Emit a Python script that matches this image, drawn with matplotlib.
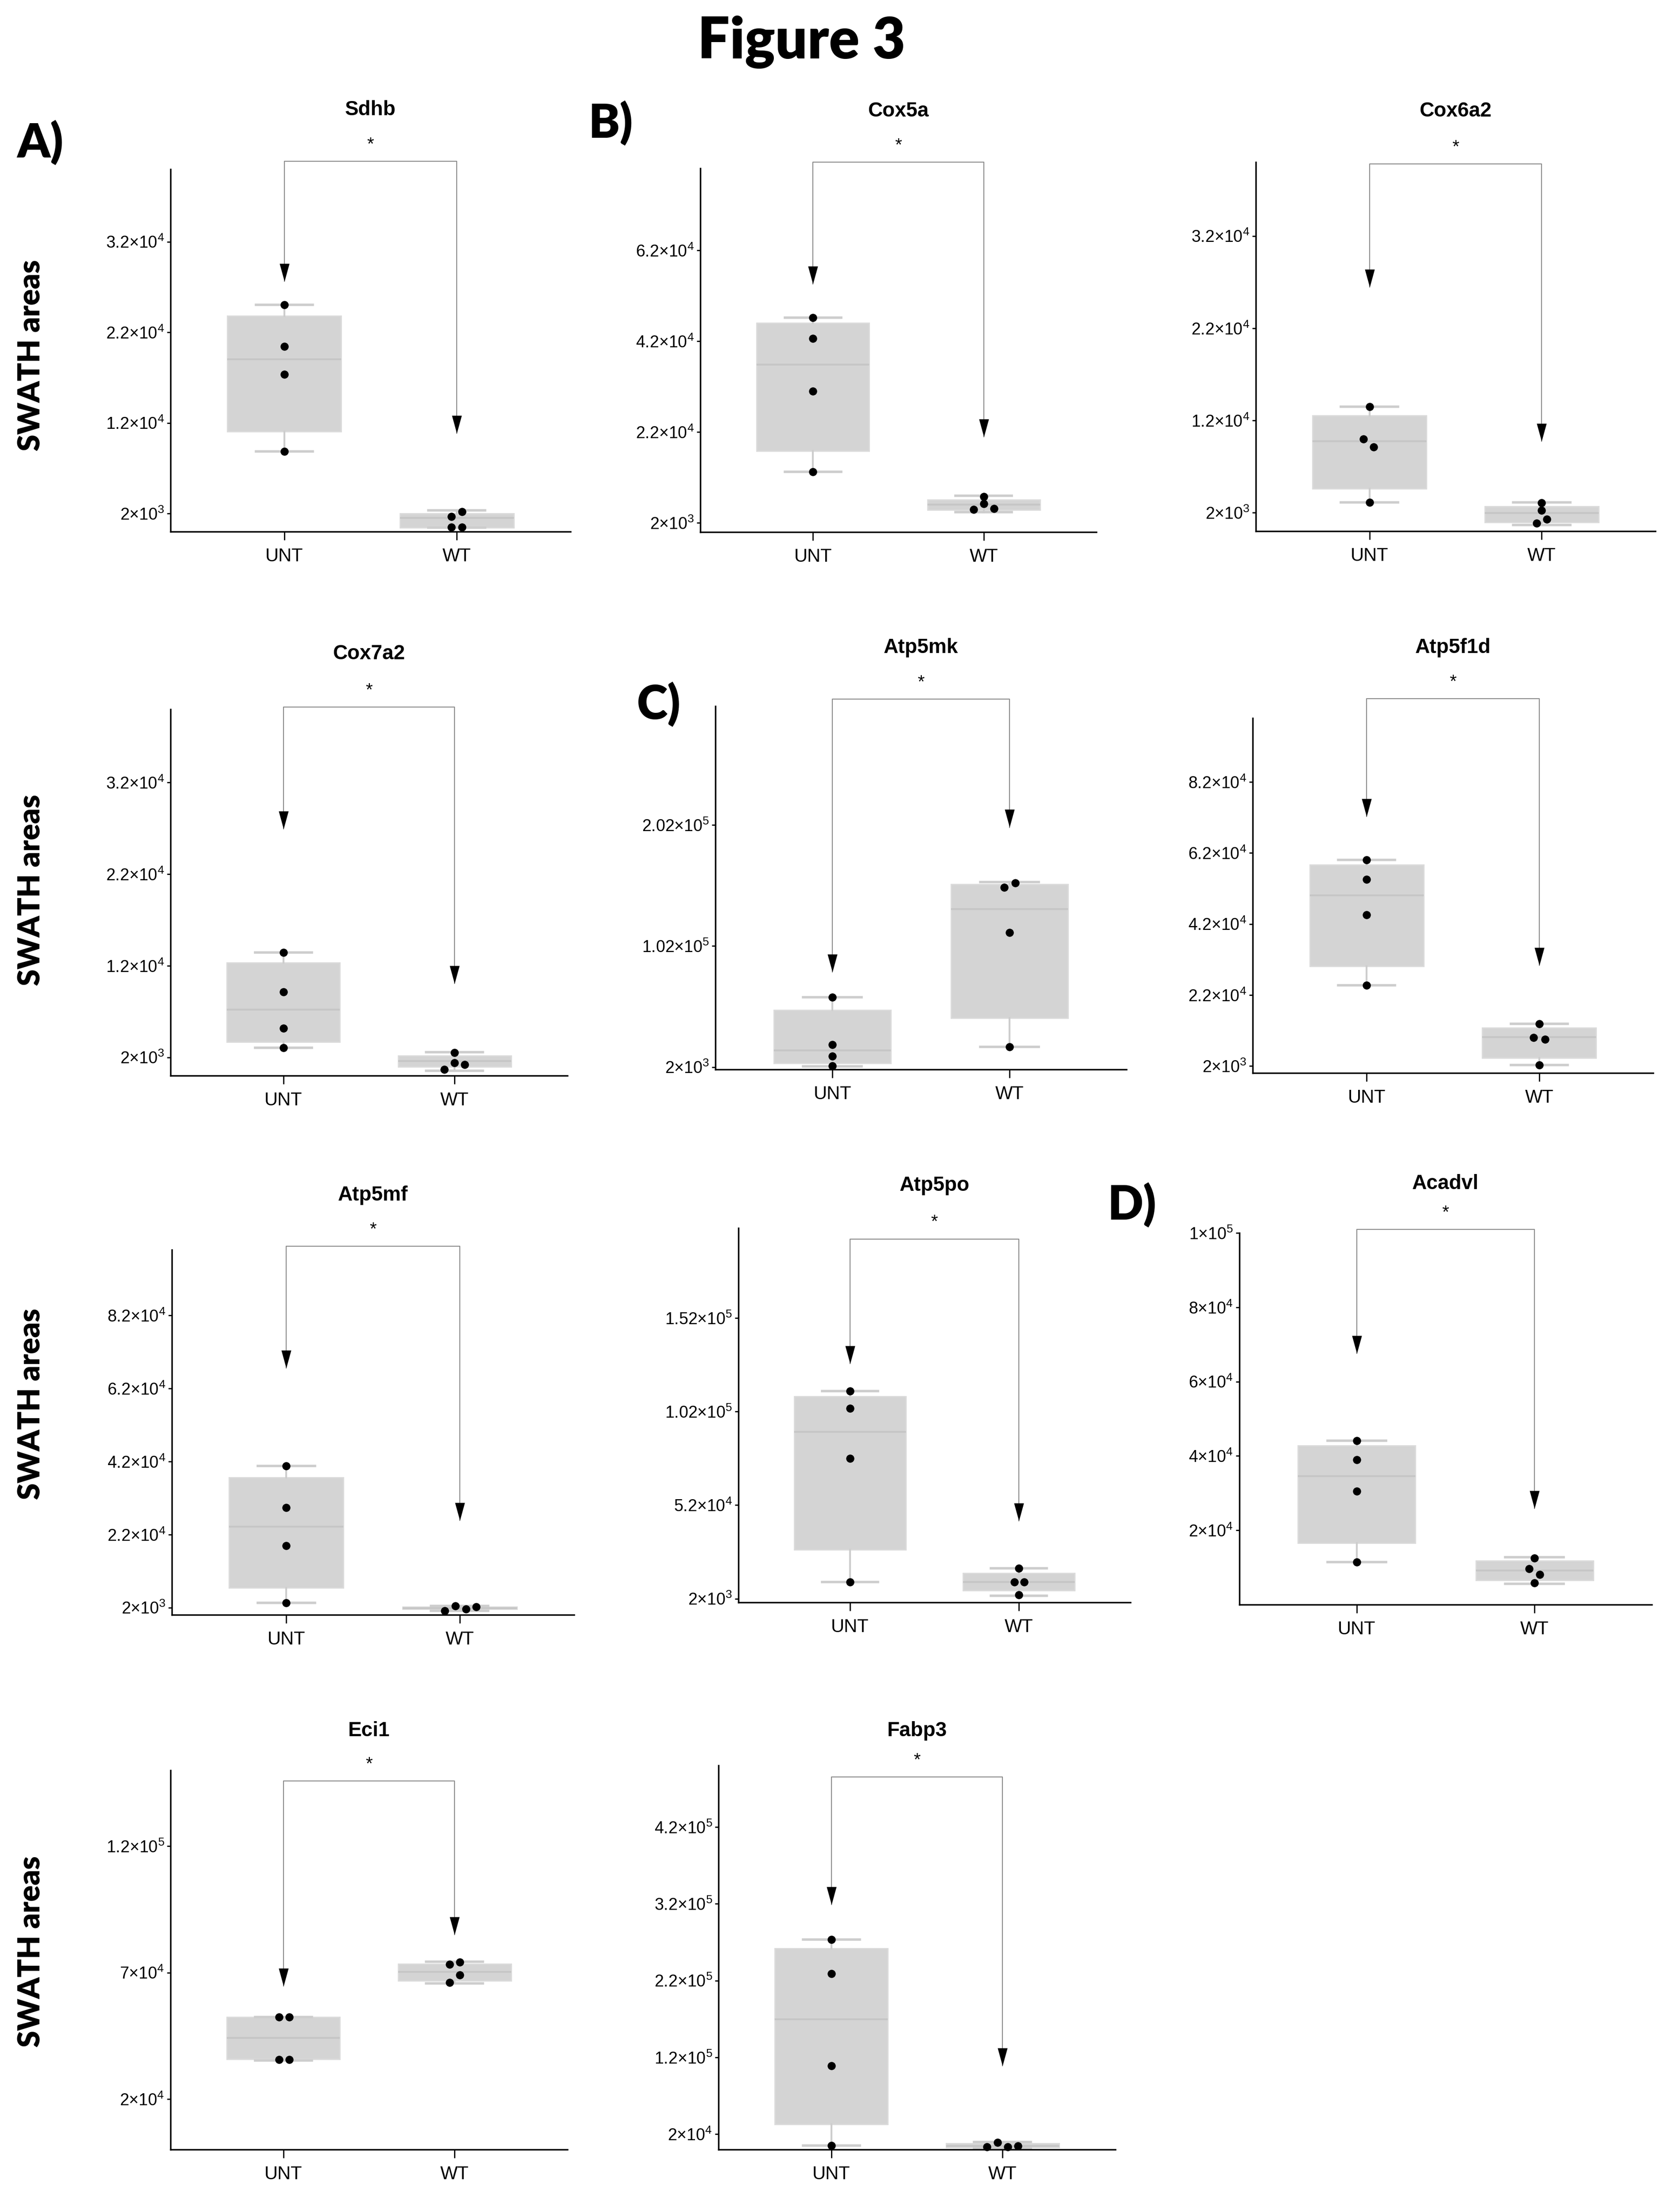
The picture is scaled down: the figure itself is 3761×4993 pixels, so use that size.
import math
import matplotlib
matplotlib.use("Agg")
import matplotlib.pyplot as plt
from matplotlib import font_manager
from matplotlib.transforms import offset_copy

W, H, DPI = 3761, 4993, 100

GENES = ["Sdhb", "Cox5a", "Cox6a2", "Cox7a2", "Atp5mk", "Atp5f1d",
         "Atp5mf", "Atp5po", "Acadvl", "Eci1", "Fabp3"]
GROUPS = ["UNT", "WT"]

# individual samples (SWATH areas)
UNT_POINTS = [
    [25050, 20440, 17350, 8840],
    [47170, 42560, 31000, 13270],
    [13500, 9980, 9140, 3110],
    [13440, 9120, 5190, 3050],
    [59700, 20350, 11040, 3060],
    [60070, 54550, 44580, 24740],
    [40760, 29310, 18920, 3320],
    [113000, 103600, 77000, 10900],
    [44050, 39030, 30470, 11440],
    [52340, 52340, 35550, 35550],
    [273300, 228800, 109000, 5470],
]
WT_POINTS = [
    [2180, 1650, 510, 510],
    [7810, 6250, 4980, 5120],
    [3050, 2240, 1300, 850],
    [2530, 1400, 1230, 700],
    [154200, 150200, 112900, 18500],
    [13870, 9970, 9520, 2270],
    [1120, 2440, 1560, 2180],
    [18130, 10920, 10920, 4060],
    [12470, 9700, 8150, 5810],
    [73250, 74210, 69120, 66100],
    [3200, 9100, 3200, 4560],
]
# horizontal jitter of the dots (category units)
UNT_JITTER = [
    [0, 0, 0, 0], [0, 0, 0, 0], [0, -0.036, 0.024, 0], [0, 0, 0, 0],
    [0, 0, 0, 0], [0, 0, 0, 0], [0, 0, 0, 0], [0, 0, 0, 0],
    [0, 0, 0, 0], [-0.026, 0.033, -0.026, 0.033], [0, 0, 0, 0],
]
WT_JITTER = [
    [0.03, -0.03, -0.03, 0.03], [0, 0, -0.06, 0.06], [0, 0, 0.03, -0.03],
    [0, 0, 0.06, -0.06], [0.033, -0.03, 0, 0], [0, -0.033, 0.033, 0],
    [-0.085, -0.026, 0.036, 0.096], [0, -0.026, 0.03, 0],
    [0, -0.03, 0.03, 0], [-0.03, 0.03, 0.03, -0.03], [-0.09, -0.03, 0.03, 0.09],
]
# box stats as drawn: q1, median, q3, whisker low, whisker high
UNT_BOX = [
    (11040, 19020, 23800, 8840, 25050),
    (17880, 36880, 45960, 13270, 47170),
    (4610, 9730, 12520, 3110, 13500),
    (3680, 7190, 12350, 3050, 13440),
    (5190, 15830, 49080, 2530, 59700),
    (30090, 50020, 58630, 24740, 60070),
    (7460, 24200, 37680, 3320, 40760),
    (28100, 91200, 110100, 10900, 113000),
    (16540, 34530, 42750, 11440, 44050),
    (35820, 44080, 52340, 35140, 52340),
    (32700, 169800, 262000, 5470, 273300),
]
WT_BOX = [
    (450, 1540, 2000, 450, 2350),
    (4840, 6040, 7100, 4400, 7960),
    (950, 1970, 2700, 680, 3110),
    (950, 1580, 2180, 530, 2560),
    (42430, 132300, 152800, 18500, 154700),
    (4270, 10150, 12690, 2270, 13870),
    (1560, 1820, 2180, 1120, 2440),
    (6290, 10920, 15730, 3540, 18130),
    (6590, 9190, 11780, 5560, 12730),
    (66790, 70220, 73390, 65680, 74350),
    (3000, 4560, 8000, 2300, 10000),
]
# significance bracket: arrow tips and bracket height (data units)
ARROW_UNT = [27640, 54600, 26460, 26950, 80470, 72300, 67600, 127600, 67580, 64720, 318700]
ARROW_WT = [10870, 20930, 9730, 10070, 199900, 30360, 25790, 43500, 25880, 84950, 109000]
BRACKET_Y = [40900, 81400, 39800, 40250, 306000, 105500, 101000, 194200, 101000, 145800, 485000]
Y_MAX = [40000, 80000, 40000, 40000, 300000, 100000, 100000, 200000, 100000, 150000, 500000]
Y_TICKS = [
    [2e3, 1.2e4, 2.2e4, 3.2e4],
    [2e3, 2.2e4, 4.2e4, 6.2e4],
    [2e3, 1.2e4, 2.2e4, 3.2e4],
    [2e3, 1.2e4, 2.2e4, 3.2e4],
    [2e3, 1.02e5, 2.02e5],
    [2e3, 2.2e4, 4.2e4, 6.2e4, 8.2e4],
    [2e3, 2.2e4, 4.2e4, 6.2e4, 8.2e4],
    [2e3, 5.2e4, 1.02e5, 1.52e5],
    [2e4, 4e4, 6e4, 8e4, 1e5],
    [2e4, 7e4, 1.2e5],
    [2e4, 1.2e5, 2.2e5, 3.2e5, 4.2e5],
]

# layout in pixels: left, top, right, bottom of the axes, title centre y
LAYOUT = [
    (385, 382, 1288, 1200, 248),
    (1581, 380, 2475, 1201, 251),
    (2835, 366, 3737, 1199, 251),
    (385, 1601, 1281, 2428, 1476),
    (1615, 1594, 2543, 2414, 1462),
    (2828, 1621, 3732, 2422, 1462),
    (388, 2821, 1296, 3645, 2698),
    (1667, 2772, 2552, 3617, 2676),
    (2798, 2783, 3729, 3622, 2672),
    (385, 3996, 1281, 4852, 3907),
    (1622, 3985, 2518, 4852, 3907),
]
YLABEL_Y = [802, 2009, 3169, 4405]
LETTERS = [("A)", 91, 322), ("B)", 1379, 278), ("C)", 1487, 1590), ("D)", 2556, 2720)]

BOX_FILL = "#d4d4d4"
BOX_EDGE = "#dbdbdb"
MEDIAN = "#c6c6c6"
WHISKER = "#cdcdcd"
LINE = "#8a8a8a"
HEAD = 29
HEAD_PATH = [(-0.55, 1), (0.55, 1), (0, -1)]


def has_font(name):
    try:
        font_manager.findfont(font_manager.FontProperties(family=name),
                              fallback_to_default=False)
        return True
    except ValueError:
        return False


NARROW = has_font("Liberation Sans Narrow")
XLAB_FONT = ["Liberation Sans Narrow", "Liberation Sans"] if NARROW else ["Liberation Sans"]
XLAB_SIZE = 34 if NARROW else 30
HEAVY = ["Lato", "DejaVu Sans"]

plt.rcParams["font.family"] = ["Liberation Sans", "DejaVu Sans"]
plt.rcParams["mathtext.fontset"] = "custom"
plt.rcParams["mathtext.rm"] = "Liberation Sans"
plt.rcParams["mathtext.default"] = "regular"


def sci_label(v):
    exp = int(math.floor(math.log10(v)))
    mant = f"{v / 10 ** exp:.2f}".rstrip("0").rstrip(".")
    return f"{mant}×10$^{{{exp}}}$"


fig = plt.figure(figsize=(W / DPI, H / DPI), dpi=DPI)

for i, gene in enumerate(GENES):
    l, t, r, b, ty = LAYOUT[i]
    ax = fig.add_axes([l / W, 1 - b / H, (r - l) / W, (b - t) / H])

    stats = []
    for q1, med, q3, lo, hi in (UNT_BOX[i], WT_BOX[i]):
        stats.append(dict(q1=q1, med=med, q3=q3, whislo=lo, whishi=hi, fliers=[]))
    ax.bxp(stats, positions=[0, 1], widths=0.66, capwidths=0.33,
           patch_artist=True, showfliers=False,
           boxprops=dict(facecolor=BOX_FILL, edgecolor=BOX_EDGE, linewidth=2),
           medianprops=dict(color=MEDIAN, linewidth=3),
           whiskerprops=dict(color=WHISKER, linewidth=3),
           capprops=dict(color=WHISKER, linewidth=4))

    for pos, pts, jit in ((0, UNT_POINTS[i], UNT_JITTER[i]),
                          (1, WT_POINTS[i], WT_JITTER[i])):
        ax.scatter([pos + j for j in jit], pts, s=175, color="black",
                   zorder=5, clip_on=False, linewidths=0)

    # bracket with arrows
    by = BRACKET_Y[i]
    ax.plot([0, 0, 1, 1], [ARROW_UNT[i], by, by, ARROW_WT[i]], color=LINE,
            lw=1.5, clip_on=False, zorder=3)
    head_tr = offset_copy(ax.transData, fig=fig, y=HEAD / 2, units="points")
    ax.plot([0, 1], [ARROW_UNT[i], ARROW_WT[i]], ls="none", marker=HEAD_PATH,
            ms=HEAD, color="black", mew=0, transform=head_tr, clip_on=False, zorder=4)
    ax.annotate("*", xy=(0.5, by), xytext=(0, 19), textcoords="offset points",
                ha="center", va="baseline", fontsize=29, annotation_clip=False)

    fig.text((l + r) / 2 / W, 1 - ty / H, gene, ha="center", va="center",
             fontsize=33, fontweight="bold", family=XLAB_FONT)

    ax.set_xlim(-0.66, 1.66)
    ax.set_ylim(0, Y_MAX[i])
    ax.set_xticks([0, 1])
    ax.set_xticklabels(GROUPS, family=XLAB_FONT, fontsize=XLAB_SIZE)
    ax.set_yticks(Y_TICKS[i])
    ax.set_yticklabels([sci_label(v) for v in Y_TICKS[i]], fontsize=27)
    for side in ("top", "right"):
        ax.spines[side].set_visible(False)
    for side in ("left", "bottom"):
        ax.spines[side].set_linewidth(2.5)
    ax.tick_params(axis="x", length=14, width=2, pad=12)
    ax.tick_params(axis="y", length=6, width=2, pad=4)
    ax.set_facecolor("none")

for y in YLABEL_Y:
    fig.text(71 / W, 1 - y / H, "SWATH areas", rotation=90, ha="center",
             va="center", fontsize=49, fontweight="heavy", family=HEAVY)

for letter, x, y in LETTERS:
    fig.text(x / W, 1 - y / H, letter, ha="center", va="center", fontsize=76,
             fontweight="heavy", family=HEAVY)

fig.text(1809 / W, 1 - 95 / H, "Figure 3", ha="center", va="center",
         fontsize=92, fontweight="heavy", family=HEAVY)

fig.savefig("out.png", dpi=DPI)
